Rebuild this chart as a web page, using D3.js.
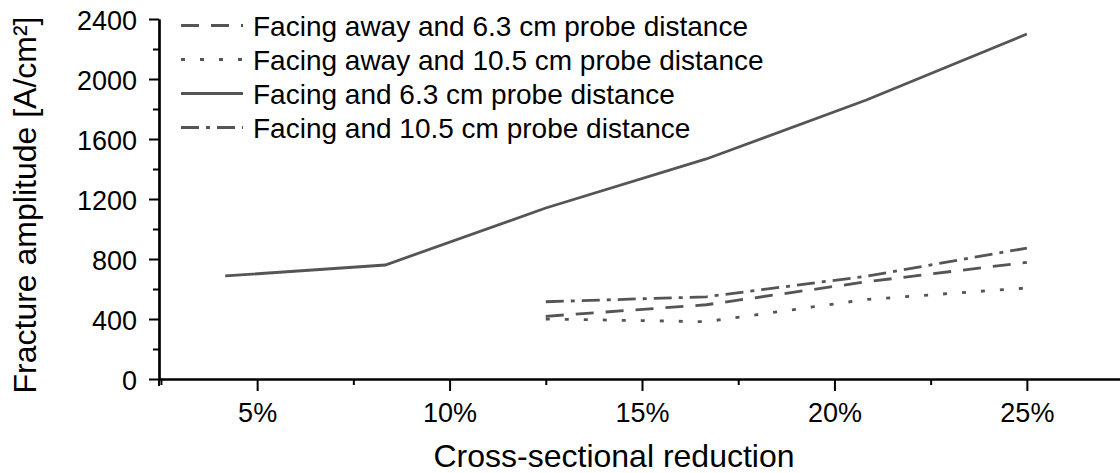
<!DOCTYPE html>
<html>
<head>
<meta charset="utf-8">
<script src="https://cdn.jsdelivr.net/npm/d3@7"></script>
<style>
  body { margin: 0; background: #fff; }
  svg text { font-family: "Liberation Sans", Arial, sans-serif; fill: #000; }
</style>
</head>
<body>
<div id="chart"></div>
<script>
// x values in percent (cross-sectional reduction)
var xAll = [4.17, 8.33, 12.5, 16.67, 20.83, 25];
var xPart = [12.5, 16.67, 20.83, 25];

var facing63 = [687, 760, 1140, 1467, 1860, 2300];
var facing105 = [515, 548, 685, 873];
var away63 = [418, 495, 648, 778];
var away105 = [400, 382, 530, 607];

var xTicks = [5, 10, 15, 20, 25];
var xMinor = [2.5, 7.5, 12.5, 17.5, 22.5];
var yTicks = [0, 400, 800, 1200, 1600, 2000, 2400];
var yMinor = [200, 600, 1000, 1400, 1800, 2200];

var seriesNames = [
  "Facing away and 6.3 cm probe distance",
  "Facing away and 10.5 cm probe distance",
  "Facing and 6.3 cm probe distance",
  "Facing and 10.5 cm probe distance"
];

var width = 1120, height = 473;
var lineColor = "#555";

var svg = d3.select("#chart").append("svg")
    .attr("width", width)
    .attr("height", height);

var x = d3.scaleLinear().domain([2.45, 27.42]).range([159, 1120]);
var y = d3.scaleLinear().domain([0, 2400]).range([379, 19]);

// axes
svg.append("g")
    .attr("transform", "translate(0," + y(0) + ")")
    .call(d3.axisBottom(x).tickValues(xTicks).tickSize(12).tickSizeOuter(0)
        .tickPadding(12).tickFormat(function(d) { return d + "%"; }));

svg.append("g")
    .attr("transform", "translate(0," + y(0) + ")")
    .call(d3.axisBottom(x).tickValues(xMinor).tickSize(6).tickSizeOuter(0).tickFormat(""));

var yAxis = svg.append("g")
    .attr("transform", "translate(" + x.range()[0] + ",0)")
    .call(d3.axisLeft(y).tickValues(yTicks).tickSize(10).tickSizeOuter(0)
        .tickPadding(12).tickFormat(d3.format("d")));

svg.append("g")
    .attr("transform", "translate(" + x.range()[0] + ",0)")
    .call(d3.axisLeft(y).tickValues(yMinor).tickSize(6).tickSizeOuter(0).tickFormat(""));

svg.selectAll(".domain").attr("stroke", "#000").attr("stroke-width", 2.2);
svg.selectAll(".tick line").attr("stroke", "#000").attr("stroke-width", 2);
svg.selectAll(".tick text").attr("font-size", 27).attr("fill", "#000");
yAxis.selectAll(".tick text").attr("dy", "0.4em");

// y axis crosses a bit below the x axis
svg.append("line")
    .attr("x1", x.range()[0]).attr("x2", x.range()[0])
    .attr("y1", y(0)).attr("y2", y(0) + 7)
    .attr("stroke", "#000").attr("stroke-width", 2);

// axis titles
svg.append("text")
    .attr("x", 614).attr("y", 467)
    .attr("text-anchor", "middle")
    .attr("font-size", 32)
    .text("Cross-sectional reduction");

svg.append("text")
    .attr("transform", "translate(36,205) rotate(-90)")
    .attr("text-anchor", "middle")
    .attr("font-size", 32)
    .text("Fracture amplitude [A/cm²]");

// lines
var styles = ["18,12", "4,15", null, "18,7,4,7"];
var seriesData = [
  xPart.map(function(d, i) { return [d, away63[i]]; }),
  xPart.map(function(d, i) { return [d, away105[i]]; }),
  xAll.map(function(d, i) { return [d, facing63[i]]; }),
  xPart.map(function(d, i) { return [d, facing105[i]]; })
];

var line = d3.line()
    .x(function(d) { return x(d[0]); })
    .y(function(d) { return y(d[1]); });

svg.selectAll(".series")
    .data(seriesData)
  .enter().append("path")
    .attr("class", "series")
    .attr("d", line)
    .attr("fill", "none")
    .attr("stroke", lineColor)
    .attr("stroke-width", 2.8)
    .attr("stroke-dasharray", function(d, i) { return styles[i]; });

// legend
var legend = svg.selectAll(".legend")
    .data(seriesNames)
  .enter().append("g")
    .attr("class", "legend")
    .attr("transform", function(d, i) { return "translate(0," + (36 + i * 34) + ")"; });

legend.append("line")
    .attr("x1", 181).attr("x2", 243)
    .attr("y1", -10.5).attr("y2", -10.5)
    .attr("stroke", lineColor)
    .attr("stroke-width", 2.8)
    .attr("stroke-dasharray", function(d, i) { return styles[i]; });

legend.append("text")
    .attr("x", 253).attr("y", 0)
    .attr("font-size", 28)
    .text(function(d) { return d; });
</script>
</body>
</html>
